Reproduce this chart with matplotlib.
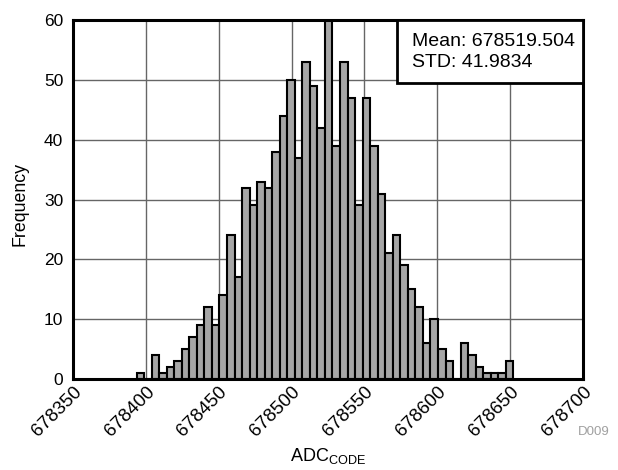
import matplotlib
matplotlib.use("Agg")
import matplotlib.pyplot as plt
from matplotlib.patches import Rectangle

plt.rcParams['font.family'] = ['Liberation Sans', 'DejaVu Sans']
plt.rcParams['mathtext.fontset'] = 'custom'
plt.rcParams['mathtext.rm'] = 'Liberation Sans'

# Data
bin_start = 678393.6
bin_width = 5.172
counts = [1, 0, 4, 1, 2, 3, 5, 7, 9, 12,
          9, 14, 24, 17, 32, 29, 33, 32, 38, 44,
          50, 37, 53, 49, 42, 60, 39, 53, 47, 29,
          47, 39, 31, 21, 24, 19, 15, 12, 6, 10,
          5, 3, 0, 6, 4, 2, 1, 1, 1, 3]
x_ticks = [678350, 678400, 678450, 678500, 678550, 678600, 678650, 678700]
y_ticks = [0, 10, 20, 30, 40, 50, 60]
stats_text = ["Mean: 678519.504", "STD: 41.9834"]

lefts = [bin_start + i * bin_width for i in range(len(counts))]

fig = plt.figure(figsize=(6.18, 4.70), dpi=100)
ax = fig.add_axes([73 / 618, 1 - 379 / 470, 510 / 618, 359 / 470])

ax.bar(lefts, counts, width=bin_width, align='edge', color='#a6a6a6',
       edgecolor='black', linewidth=1.5, zorder=3)

ax.set_xlim(678350, 678700)
ax.set_ylim(0, 60)
ax.set_xticks(x_ticks)
ax.set_yticks(y_ticks)
ax.set_xticklabels([str(v) for v in x_ticks], rotation=45, ha='right',
                   rotation_mode='anchor', fontsize=13.5)
ax.set_yticklabels([str(v) for v in y_ticks], fontsize=12.5)
ax.tick_params(axis='y', length=0, pad=7)
ax.tick_params(axis='x', length=0, pad=3)
ax.grid(True, color='#666666', linewidth=1.0, zorder=0)
ax.set_axisbelow(True)
for s in ax.spines.values():
    s.set_linewidth(2.2)
    s.set_color('black')
    s.set_zorder(5)

fig.text(20 / 618, 1 - 204 / 470, 'Frequency', fontsize=12.8, rotation=90,
         ha='center', va='center')
fig.text(328 / 618, 1 - 456 / 470, r'ADC$_{\mathregular{CODE}}$', fontsize=13,
         ha='center', va='center')

# stats box
box = Rectangle((0.635, 0.824), 0.365, 0.176, transform=ax.transAxes,
                facecolor='white', edgecolor='black', linewidth=2.0, zorder=6,
                clip_on=False)
ax.add_patch(box)
ax.text(0.664, 0.94, stats_text[0], transform=ax.transAxes, fontsize=14,
        va='center', ha='left', zorder=7)
ax.text(0.664, 0.883, stats_text[1], transform=ax.transAxes, fontsize=14,
        va='center', ha='left', zorder=7)

fig.text(610 / 618, 1 - 432 / 470, 'D009', color='#a0a0a0', fontsize=9.5,
         ha='right', va='center')

fig.savefig('out.png', dpi=100)
